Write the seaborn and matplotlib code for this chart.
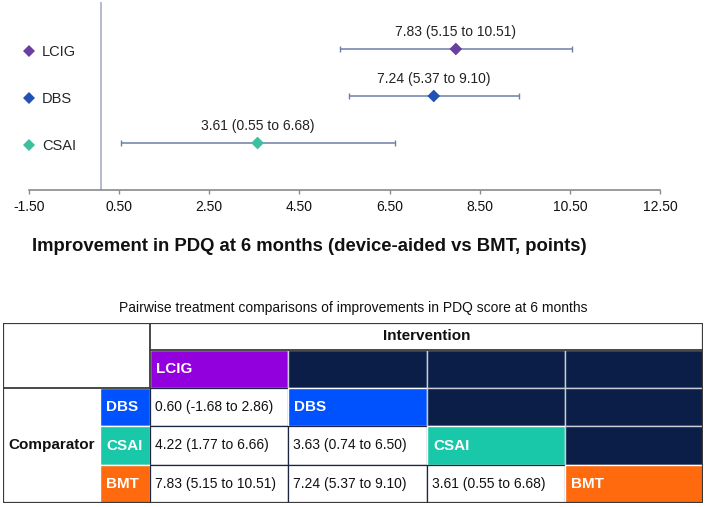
import matplotlib
matplotlib.use("Agg")
import matplotlib.pyplot as plt
from matplotlib.patches import Rectangle
import pandas as pd
import seaborn as sns

# forest plot values
treatments = ["LCIG", "DBS", "CSAI"]
effect = [7.97, 7.48, 3.57]
ci_low = [5.39, 5.59, 0.54]
ci_high = [10.54, 9.37, 6.63]
effect_labels = ["7.83 (5.15 to 10.51)", "7.24 (5.37 to 9.10)", "3.61 (0.55 to 6.68)"]
x_ticks = [-1.5, 0.5, 2.5, 4.5, 6.5, 8.5, 10.5, 12.5]
ref_line = 0.1

# pairwise comparison table
interventions = ["LCIG", "DBS", "CSAI", "BMT"]
pairwise = [
    ["0.60 (-1.68 to 2.86)"],
    ["4.22 (1.77 to 6.66)", "3.63 (0.74 to 6.50)"],
    ["7.83 (5.15 to 10.51)", "7.24 (5.37 to 9.10)", "3.61 (0.55 to 6.68)"],
]

marker_colors = {"LCIG": "#6A3FA2", "DBS": "#2152B3", "CSAI": "#3DC0A0"}
cell_colors = {"LCIG": "#9200DE", "DBS": "#0052FF", "CSAI": "#18C8A8", "BMT": "#FF6A0E"}
navy = "#0A1E48"

sns.set_theme(style="white")
plt.rcParams["font.family"] = ["Liberation Sans", "DejaVu Sans"]

W, H = 706, 507
fig = plt.figure(figsize=(W / 100, H / 100), dpi=100)

# ---- forest plot ----
ax = fig.add_axes([29 / W, 1 - 190 / H, 631 / W, 188 / H])
df = pd.DataFrame({
    "treatment": treatments,
    "effect": effect,
    "lo": ci_low,
    "hi": ci_high,
    "ypos": list(range(len(treatments), 0, -1)),
})

ax.axvline(ref_line, color="#A8AFC2", lw=1.2, zorder=1)
ax.errorbar(df["effect"], df["ypos"],
            xerr=[df["effect"] - df["lo"], df["hi"] - df["effect"]],
            fmt="none", ecolor="#6E7EA8", elinewidth=1.1, capsize=2.5,
            capthick=1, zorder=2)
sns.scatterplot(data=df, x="effect", y="ypos", hue="treatment",
                palette=marker_colors, marker="D", s=42, linewidth=0,
                ax=ax, zorder=3)
for _, row in df.iterrows():
    lab = effect_labels[treatments.index(row["treatment"])]
    ax.annotate(lab, (row["effect"], row["ypos"]), xytext=(0, 12),
                textcoords="offset points", ha="center", va="center",
                fontsize=10, color="#222222")

ax.set_xlim(-1.5, 12.5)
ax.set_ylim(0, 4)
ax.set_xticks(x_ticks)
ax.set_xticklabels([f"{t:.2f}" for t in x_ticks])
ax.set_yticks([])
ax.set_ylabel("")
for s in ["top", "left", "right"]:
    ax.spines[s].set_visible(False)
ax.spines["bottom"].set_color("#8A8A8A")
ax.spines["bottom"].set_linewidth(1.2)
ax.tick_params(axis="x", bottom=True, length=3, width=1, color="#8A8A8A",
               labelsize=10, pad=4, labelcolor="#111111")
ax.set_xlabel("Improvement in PDQ at 6 months (device-aided vs BMT, points)",
              fontsize=13.3, fontweight="bold", color="#111111")
ax.xaxis.set_label_coords((309.5 - 29) / 631, (190 - 238) / 188)

handles, labels = ax.get_legend_handles_labels()
ax.legend(handles, labels, loc="upper left", bbox_to_anchor=(23 / W, 1 - 45 / H),
          bbox_transform=fig.transFigure, frameon=False, fontsize=10.5,
          handlelength=0.8, handletextpad=0.5, labelspacing=2.25,
          borderpad=0, borderaxespad=0)

# ---- pairwise table ----
fig.text(353 / W, 1 - 308 / H,
         "Pairwise treatment comparisons of improvements in PDQ score at 6 months",
         ha="center", va="center", fontsize=10, color="#111111")

tax = fig.add_axes([3 / W, 4 / H, 700 / W, 180 / H])
tax.set_xlim(0, 700)
tax.set_ylim(180, 0)
tax.axis("off")

col_edges = [0, 97, 147, 285, 424, 562, 700]
row_edges = [0, 27, 65, 103, 142, 180]


def cell(r, c, fill, edge, lw=1.0):
    x0, x1 = col_edges[c], col_edges[c + 1]
    y0, y1 = row_edges[r], row_edges[r + 1]
    tax.add_patch(Rectangle((x0, y0), x1 - x0, y1 - y0, facecolor=fill,
                            edgecolor=edge, lw=lw, zorder=1))
    return x0, (y0 + y1) / 2


def label_cell(r, c, name):
    x0, yc = cell(r, c, cell_colors[name], "white", 1.0)
    tax.text(x0 + 6, yc, name, ha="left", va="center", fontsize=11,
             fontweight="bold", color="white", zorder=3)


# header rows
label_cell(1, 2, interventions[0])
for c in range(3, 6):
    cell(1, c, navy, "#C9CCD6", 1.0)
tax.text((col_edges[2] + col_edges[6]) / 2, row_edges[0] + 13.5, "Intervention",
         ha="center", va="center", fontsize=11, fontweight="bold", color="#111111")

# comparator rows
for i, vals in enumerate(pairwise):
    r = i + 2
    label_cell(r, 1, interventions[i + 1])
    for j, v in enumerate(vals):
        x0, yc = cell(r, 2 + j, "white", "#1B2440", 0.9)
        tax.text(x0 + 5, yc, v, ha="left", va="center", fontsize=10,
                 color="#111111", zorder=3)
    label_cell(r, 2 + len(vals), interventions[i + 1])
    for c in range(3 + len(vals), 6):
        cell(r, c, navy, "#C9CCD6", 1.0)

tax.text(col_edges[1] / 2, (row_edges[2] + row_edges[5]) / 2, "Comparator",
         ha="center", va="center", fontsize=11, fontweight="bold", color="#111111")

# structural borders
line_kw = dict(color="#3A3A3A", lw=1.3, zorder=4)
tax.plot([col_edges[2], 700], [row_edges[1], row_edges[1]], **line_kw)
tax.plot([0, col_edges[2]], [row_edges[2], row_edges[2]], **line_kw)
tax.plot([col_edges[2], col_edges[2]], [0, row_edges[2]], **line_kw)
tax.add_patch(Rectangle((0, 0), 700, 180, facecolor="none",
                        edgecolor="#3A3A3A", lw=1.6, zorder=5))

fig.savefig("out.png", dpi=100)
